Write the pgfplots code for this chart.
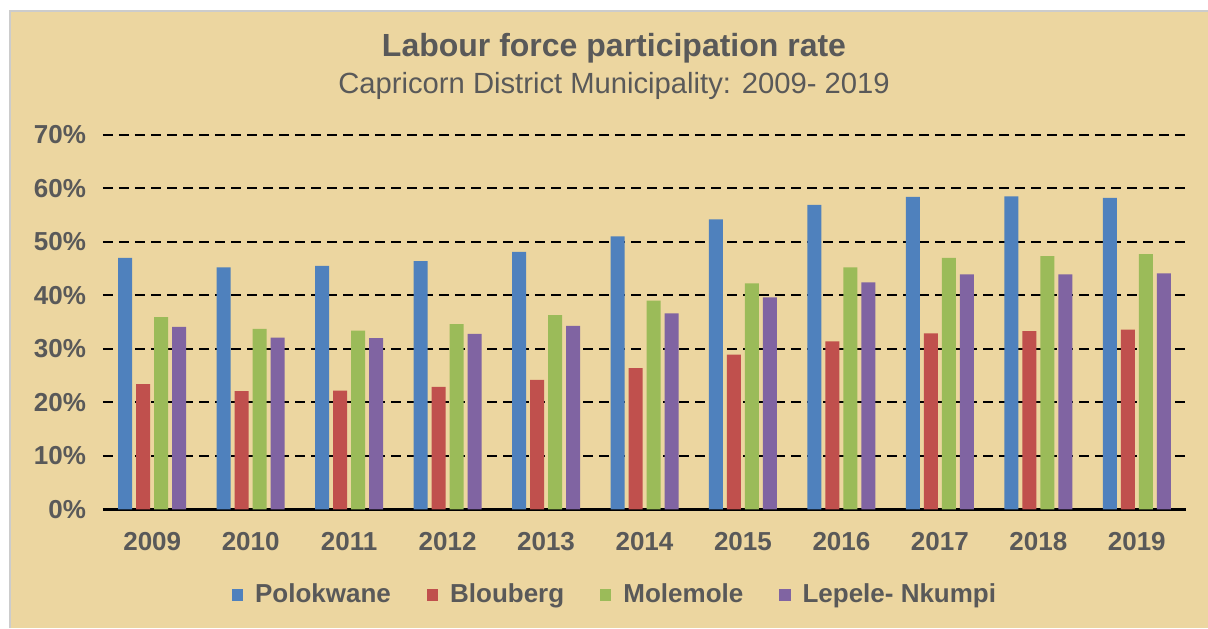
\documentclass[border=0pt]{standalone}
\usepackage{pgfplots}
\pgfplotsset{compat=1.18}
\usepackage{fontspec}
\setmainfont{Liberation Sans}
\definecolor{papyrus}{RGB}{236,214,160}
\definecolor{textgray}{RGB}{89,89,89}
\definecolor{cblue}{RGB}{79,129,189}
\definecolor{cred}{RGB}{192,80,77}
\definecolor{cgreen}{RGB}{155,187,89}
\definecolor{cpurple}{RGB}{128,100,162}
\begin{document}
\begin{tikzpicture}
\path[use as bounding box] (0,0) rectangle (604pt,314pt);
\fill[white] (0,0) rectangle (604pt,314pt);
\fill[papyrus] (5pt,0) rectangle (604pt,308.5pt);
\draw[gray!40, line width=1pt] (5pt,0) -- (5pt,308.5pt) -- (604pt,308.5pt);
\node[font=\bfseries\fontsize{16}{18}\selectfont, text=textgray] at (307pt,290pt) {Labour force participation rate};
\node[font=\fontsize{14.6}{17}\selectfont, text=textgray] at (307pt,271pt) {Capricorn District Municipality: 2009- 2019};
\begin{axis}[
  at={(51.5pt,59.35pt)}, anchor=south west,
  scale only axis, width=541.5pt, height=187.3pt,
  ybar=2pt, bar width=7pt,
  xmin=-0.5, xmax=10.5, ymin=0, ymax=70,
  xtick=data,
  xticklabels={2009,2010,2011,2012,2013,2014,2015,2016,2017,2018,2019},
  ytick={0,10,20,30,40,50,60,70},
  yticklabel={\pgfmathprintnumber{\tick}\%},
  /pgf/number format/assume math mode=true,
  tick label style={font=\bfseries\fontsize{13}{15}\selectfont, text=textgray},
  yticklabel style={xshift=-5pt},
  xticklabel style={yshift=-8pt},
  major tick length=0pt,
  axis x line*=bottom, axis y line*=left,
  x axis line style={black, line width=1.2pt, -},
  y axis line style={draw=none},
  ymajorgrids, grid style={black, line width=1pt, dash pattern=on 5pt off 3pt},
  legend style={at={(axis description cs:0.4737,-0.2288)}, anchor=center, draw=none, fill=none,
    font=\bfseries\fontsize{13}{15}\selectfont, text=textgray,
    legend columns=4,
    /tikz/every odd column/.append style={column sep=4pt},
    /tikz/every even column/.append style={column sep=16pt}},
  legend image code/.code={\fill[#1] (0pt,-2.8pt) rectangle (5.6pt,2.8pt);},
]
\addplot[fill=cblue, draw=none] coordinates {(0,47.0) (1,45.2) (2,45.5) (3,46.4) (4,48.1) (5,51.0) (6,54.2) (7,56.9) (8,58.4) (9,58.5) (10,58.2)};
\addplot[fill=cred, draw=none] coordinates {(0,23.4) (1,22.1) (2,22.2) (3,22.9) (4,24.2) (5,26.4) (6,28.9) (7,31.4) (8,32.9) (9,33.3) (10,33.6)};
\addplot[fill=cgreen, draw=none] coordinates {(0,35.9) (1,33.7) (2,33.4) (3,34.6) (4,36.3) (5,39.0) (6,42.2) (7,45.2) (8,47.0) (9,47.3) (10,47.7)};
\addplot[fill=cpurple, draw=none] coordinates {(0,34.1) (1,32.1) (2,32.0) (3,32.8) (4,34.3) (5,36.6) (6,39.6) (7,42.4) (8,43.9) (9,43.9) (10,44.1)};
\legend{Polokwane,Blouberg,Molemole,Lepele- Nkumpi}
\end{axis}
\end{tikzpicture}
\end{document}
